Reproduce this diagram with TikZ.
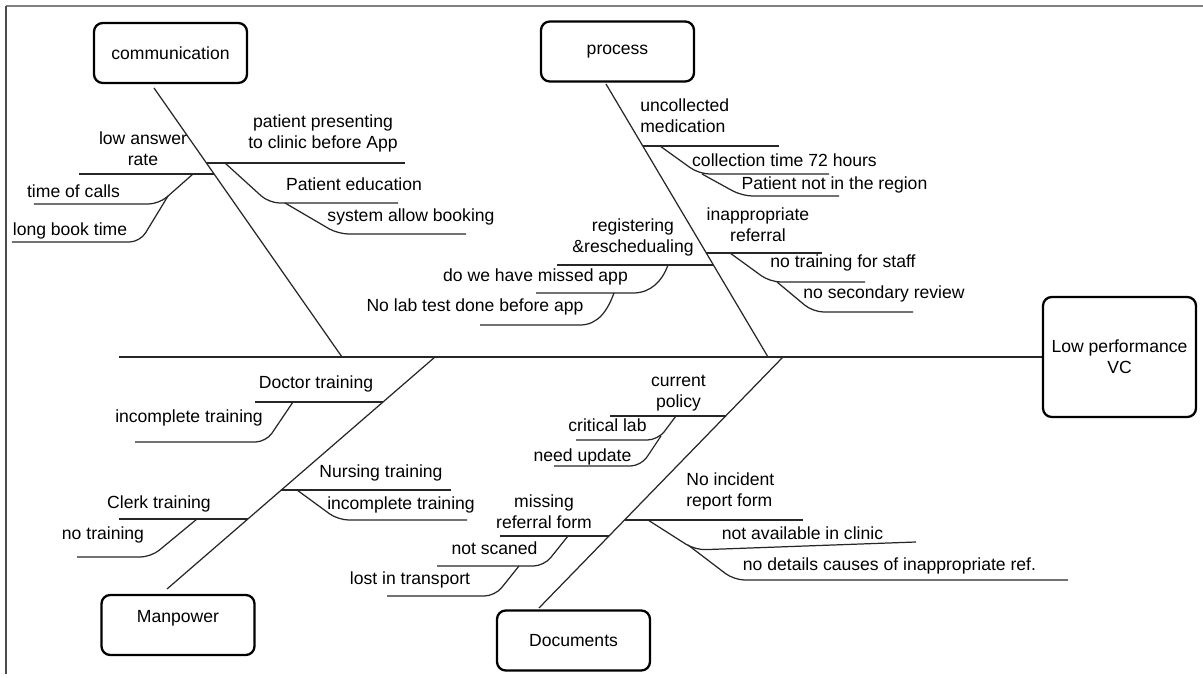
\documentclass[tikz,border=0pt]{standalone}
\usepackage{fontspec}
\setmainfont{Liberation Sans}
\usepackage{color}
\definecolor{framegray}{RGB}{128, 128, 128}

\begin{document}
\begin{tikzpicture}[x=2cm,y=2cm,
    catbox/.style={draw,line width=1.3pt,rounded corners=5pt,minimum width=3.06cm,minimum height=1.2cm,font=\fontsize{10}{12}\selectfont},
    bone/.style={line width=0.7pt,black!85},
    sub/.style={line width=0.7pt,black!85,rounded corners=6pt},
    lbl/.style={font=\fontsize{10}{12}\selectfont,inner sep=0pt,text height=7pt,text depth=2pt},
    lbl2/.style={font=\fontsize{10}{12}\selectfont,inner sep=0pt,align=center}]
        \useasboundingbox (0,0) rectangle (12.03,6.78);
        \coordinate (f1) at (0.06,0.04);
        \coordinate (f2) at (0.06,6.72);
        \coordinate (f3) at (12.03,6.72);
        \draw[framegray,line width=1.2pt] (f2) -- (f3);
        \draw[black!70,line width=0.9pt] (f2) -- (f1);

        \node[catbox] (comm) at (1.705,6.25) {communication};
        \node[catbox] (proc) at (6.175,6.265) {process};
        \node[catbox,text depth=10pt] (manp) at (1.78,0.53) {Manpower};
        \node[catbox] (docs) at (5.735,0.375) {Documents};
        \node[catbox,minimum height=2.4cm,align=center] (vc) at (11.195,3.21) {Low performance\\VC};

        \coordinate (tail) at (1.19,3.21);
        \coordinate (c0) at (1.54,5.90);
        \coordinate (c9) at (3.42,3.21);
        \coordinate (p0) at (6.06,5.94);
        \coordinate (p9) at (7.68,3.21);
        \coordinate (m0) at (1.67,0.89);
        \coordinate (m9) at (4.35,3.21);
        \coordinate (d0) at (5.39,0.70);
        \coordinate (d9) at (7.83,3.21);
        \draw[bone] (tail) -- (vc.west);
        \draw[bone] (c0) -- (c9);
        \draw[bone] (p0) -- (p9);
        \draw[bone] (m0) -- (m9);
        \draw[bone] (d0) -- (d9);

        % communication
        \coordinate (c1a) at (2.14,5.04);
        \coordinate (c1b) at (0.79,5.04);
        \coordinate (c11a) at (1.93,5.04);
        \coordinate (c11b) at (1.59,4.74);
        \coordinate (c11c) at (0.34,4.74);
        \coordinate (c12a) at (1.68,4.82);
        \coordinate (c12b) at (1.40,4.36);
        \coordinate (c12c) at (0.12,4.36);
        \coordinate (c2a) at (2.07,5.15);
        \coordinate (c2b) at (4.05,5.15);
        \coordinate (c21a) at (2.25,5.15);
        \coordinate (c21b) at (2.69,4.75);
        \coordinate (c21c) at (3.98,4.75);
        \coordinate (c22a) at (2.85,4.75);
        \coordinate (c22b) at (3.38,4.44);
        \coordinate (c22c) at (4.66,4.44);
        \draw[bone] (c1a) -- (c1b);
        \draw[sub] (c11a) -- (c11b) -- (c11c);
        \draw[sub] (c12a) -- (c12b) -- (c12c);
        \draw[bone] (c2a) -- (c2b);
        \draw[sub] (c21a) -- (c21b) -- (c21c);
        \draw[sub] (c22a) -- (c22b) -- (c22c);
        \node[lbl2] (lowans) at (1.43,5.295) {low answer\\rate};
        \node[lbl] (calls) at (0.735,4.85) {time of calls};
        \node[lbl] (book) at (0.70,4.47) {long book time};
        \node[lbl2] (present) at (3.23,5.445) {patient presenting\\to clinic before App};
        \node[lbl] (educ) at (3.54,4.92) {Patient education};
        \node[lbl] (allow) at (4.11,4.61) {system allow booking};

        % process
        \coordinate (p1a) at (6.43,5.32);
        \coordinate (p1b) at (7.79,5.32);
        \coordinate (p11a) at (6.60,5.32);
        \coordinate (p11b) at (6.99,5.04);
        \coordinate (p11c) at (8.29,5.04);
        \coordinate (p12a) at (7.02,5.04);
        \coordinate (p12b) at (7.42,4.82);
        \coordinate (p12c) at (8.39,4.82);
        \coordinate (p2a) at (7.06,4.25);
        \coordinate (p2b) at (8.22,4.25);
        \coordinate (p21a) at (7.30,4.25);
        \coordinate (p21b) at (7.70,3.96);
        \coordinate (p21c) at (8.65,3.96);
        \coordinate (p22a) at (7.77,3.96);
        \coordinate (p22b) at (8.13,3.66);
        \coordinate (p22c) at (9.13,3.66);
        \coordinate (p3a) at (7.13,4.13);
        \coordinate (p3b) at (5.57,4.13);
        \coordinate (p31a) at (6.68,4.13);
        \coordinate (p31b) at (6.33,3.85);
        \coordinate (p31c) at (5.36,3.85);
        \coordinate (p32a) at (6.14,3.85);
        \coordinate (p32b) at (5.80,3.53);
        \coordinate (p32c) at (4.80,3.53);
        \draw[bone] (p1a) -- (p1b);
        \draw[sub] (p11a) -- (p11b) -- (p11c);
        \draw[sub] (p12a) -- (p12b) -- (p12c);
        \draw[bone] (p2a) -- (p2b);
        \draw[sub] (p21a) -- (p21b) -- (p21c);
        \draw[sub] (p22a) -- (p22b) -- (p22c);
        \draw[bone] (p3a) -- (p3b);
        \draw[bone] (p31a) to[out=-110,in=0] (p31b) -- (p31c);
        \draw[bone] (p32a) to[out=-110,in=0] (p32b) -- (p32c);
        \node[lbl2,align=left,anchor=west] (uncol) at (6.40,5.625) {uncollected\\medication};
        \node[lbl] (coll) at (7.845,5.16) {collection time 72 hours};
        \node[lbl] (region) at (8.345,4.93) {Patient not in the region};
        \node[lbl2] (inapp) at (7.58,4.53) {inappropriate\\referral};
        \node[lbl] (staff) at (8.43,4.15) {no training for staff};
        \node[lbl] (review) at (8.84,3.84) {no secondary review};
        \node[lbl2] (regis) at (6.33,4.405) {registering\\\&reschedualing};
        \node[lbl] (missed) at (5.355,4.01) {do we have missed app};
        \node[lbl] (labtest) at (4.75,3.71) {No lab test done before app};

        % manpower
        \coordinate (m1a) at (3.83,2.76);
        \coordinate (m1b) at (2.55,2.76);
        \coordinate (m11a) at (2.93,2.76);
        \coordinate (m11b) at (2.66,2.36);
        \coordinate (m11c) at (1.35,2.36);
        \coordinate (m2a) at (2.81,1.88);
        \coordinate (m2b) at (4.51,1.88);
        \coordinate (m21a) at (2.97,1.88);
        \coordinate (m21b) at (3.38,1.58);
        \coordinate (m21c) at (4.67,1.58);
        \coordinate (m3a) at (2.48,1.59);
        \coordinate (m3b) at (1.19,1.59);
        \coordinate (m31a) at (1.97,1.59);
        \coordinate (m31b) at (1.51,1.21);
        \coordinate (m31c) at (0.77,1.21);
        \draw[bone] (m1a) -- (m1b);
        \draw[sub] (m11a) -- (m11b) -- (m11c);
        \draw[bone] (m2a) -- (m2b);
        \draw[sub] (m21a) -- (m21b) -- (m21c);
        \draw[bone] (m3a) -- (m3b);
        \draw[sub] (m31a) -- (m31b) -- (m31c);
        \node[lbl] (doctor) at (3.16,2.94) {Doctor training};
        \node[lbl] (docinc) at (1.89,2.60) {incomplete training};
        \node[lbl] (nurse) at (3.81,2.05) {Nursing training};
        \node[lbl] (nurinc) at (4.01,1.73) {incomplete training};
        \node[lbl] (clerk) at (1.59,1.74) {Clerk training};
        \node[lbl] (notrain) at (1.03,1.43) {no training};

        % documents
        \coordinate (d1a) at (7.26,2.62);
        \coordinate (d1b) at (6.10,2.62);
        \coordinate (d11a) at (6.76,2.62);
        \coordinate (d11b) at (6.58,2.38);
        \coordinate (d11c) at (5.76,2.38);
        \coordinate (d12a) at (6.61,2.42);
        \coordinate (d12b) at (6.41,2.12);
        \coordinate (d12c) at (5.54,2.12);
        \coordinate (d2a) at (6.25,1.58);
        \coordinate (d2b) at (8.03,1.58);
        \coordinate (d21a) at (6.48,1.58);
        \coordinate (d21b) at (6.95,1.28);
        \coordinate (d21c) at (9.16,1.36);
        \coordinate (d22a) at (6.88,1.33);
        \coordinate (d22b) at (7.34,0.98);
        \coordinate (d22c) at (10.68,0.98);
        \coordinate (d3a) at (6.09,1.42);
        \coordinate (d3b) at (5.00,1.42);
        \coordinate (d31a) at (5.68,1.42);
        \coordinate (d31b) at (5.44,1.12);
        \coordinate (d31c) at (4.37,1.12);
        \coordinate (d32a) at (5.19,1.12);
        \coordinate (d32b) at (4.95,0.82);
        \coordinate (d32c) at (3.87,0.82);
        \draw[bone] (d1a) -- (d1b);
        \draw[sub] (d11a) -- (d11b) -- (d11c);
        \draw[sub] (d12a) -- (d12b) -- (d12c);
        \draw[bone] (d2a) -- (d2b);
        \draw[sub] (d21a) -- (d21b) -- (d21c);
        \draw[sub] (d22a) -- (d22b) -- (d22c);
        \draw[bone] (d3a) -- (d3b);
        \draw[sub] (d31a) -- (d31b) -- (d31c);
        \draw[sub] (d32a) -- (d32b) -- (d32c);
        \node[lbl2] (policy) at (6.785,2.845) {current\\policy};
        \node[lbl] (critlab) at (6.075,2.51) {critical lab};
        \node[lbl] (update) at (5.825,2.21) {need update};
        \node[lbl2,align=left,anchor=west] (incid) at (6.86,1.865) {No incident\\report form};
        \node[lbl] (avail) at (8.025,1.43) {not available in clinic};
        \node[lbl] (details) at (8.895,1.12) {no details causes of inappropriate ref.};
        \node[lbl2] (refform) at (5.44,1.66) {missing\\referral form};
        \node[lbl] (scaned) at (4.945,1.28) {not scaned};
        \node[lbl] (transport) at (4.10,0.98) {lost in transport};
    \end{tikzpicture}
\end{document}
